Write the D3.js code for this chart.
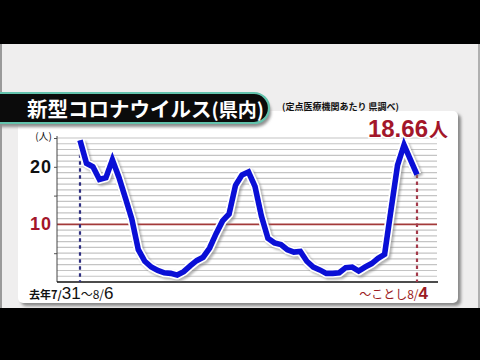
<!DOCTYPE html>
<html><head><meta charset="utf-8">
<script src="https://cdn.jsdelivr.net/npm/d3@7"></script>
<style>
html,body{margin:0;padding:0;background:#000;}
svg{display:block;}
</style></head>
<body>
<svg id="chart" width="480" height="360"></svg>
<script>
// Weekly reports, week starting dates (7/31 last year to 7/29 this year)
const weeks = ["7/31","8/7","8/14","8/21","8/28","9/4","9/11","9/18","9/25","10/2","10/9","10/16","10/23","10/30",
  "11/6","11/13","11/20","11/27","12/4","12/11","12/18","12/25","1/1","1/8","1/15","1/22","1/29",
  "2/5","2/12","2/19","2/26","3/4","3/11","3/18","3/25","4/1","4/8","4/15","4/22","4/29",
  "5/6","5/13","5/20","5/27","6/3","6/10","6/17","6/24","7/1","7/8","7/15","7/22","7/29"];
// Patients per sentinel medical institution
const perSite = [24.6,20.6,20.0,17.8,18.1,21.2,18.2,14.6,10.9,5.6,
  3.6,2.6,2.0,1.6,1.5,1.2,1.8,2.8,3.7,4.3,
  5.9,8.4,10.6,11.8,16.8,18.6,19.1,16.6,11.4,7.6,
  6.8,6.5,5.6,5.2,5.3,3.6,2.6,2.1,1.5,1.5,
  1.6,2.5,2.6,1.9,2.6,3.2,4.1,4.8,12.6,20.3,
  23.8,21.2,18.66];
const gridValues = d3.range(1, 26);
const tickValues = [5, 15, 20, 25];
const yLabels = [20, 10];

const svg = d3.select("#chart");
const jp = "'Noto Sans CJK JP','Noto Sans',sans-serif";
const num = "'Liberation Sans',Arial,sans-serif";

// backdrop
svg.append("rect").attr("x",0).attr("y",44).attr("width",480).attr("height",264).attr("fill","#efeeee");
svg.append("rect").attr("x",0).attr("y",44).attr("width",2).attr("height",264).attr("fill","#9a9a9a");
svg.append("rect").attr("x",478).attr("y",44).attr("width",2).attr("height",264).attr("fill","#b0b0b0");

const defs = svg.append("defs");
const sh = defs.append("filter").attr("id","sh").attr("x","-10%").attr("y","-10%").attr("width","130%").attr("height","130%");
sh.append("feGaussianBlur").attr("stdDeviation",1.6);
const lsh = defs.append("filter").attr("id","lsh").attr("x","-10%").attr("y","-10%").attr("width","130%").attr("height","130%");
lsh.append("feGaussianBlur").attr("stdDeviation",1.2);

// card
svg.append("rect").attr("x",21).attr("y",114).attr("width",440).attr("height",192).attr("rx",5)
  .attr("fill","#8a8a8a").attr("filter","url(#sh)");
svg.append("rect").attr("x",18).attr("y",111).attr("width",440).attr("height",192).attr("rx",5).attr("fill","#ffffff");

// scales
const x = d3.scalePoint().domain(weeks).range([80, 417]);
const y = d3.scaleLinear().domain([0, 25]).range([282, 138]);
const x0 = 57, x1 = 437;

// grid
svg.append("g").selectAll("line").data(gridValues.filter(v => v !== 10)).join("line")
  .attr("x1",x0).attr("x2",x1).attr("y1",d=>y(d)).attr("y2",d=>y(d))
  .attr("stroke","#c4c4c4").attr("stroke-width",1.2);
svg.append("line").attr("x1",x0).attr("x2",x1).attr("y1",y(10)).attr("y2",y(10))
  .attr("stroke","#a33a3a").attr("stroke-width",1.6);

// y axis
const yAxis = d3.axisLeft(y).tickValues(tickValues).tickSize(3).tickFormat("");
const ga = svg.append("g").attr("transform",`translate(${x0},0)`).call(yAxis);
ga.select(".domain").remove();
ga.selectAll(".tick line").attr("stroke","#555");
svg.append("line").attr("x1",x0).attr("x2",x0).attr("y1",y(25)-2).attr("y2",y(0))
  .attr("stroke","#444").attr("stroke-width",1);
svg.append("line").attr("x1",x0).attr("x2",x1+1).attr("y1",y(0)).attr("y2",y(0))
  .attr("stroke","#111").attr("stroke-width",1.5);

// y labels
svg.append("g").selectAll("text").data(yLabels).join("text")
  .attr("x",52).attr("y",d=>y(d)+6).attr("text-anchor","end")
  .attr("font-family",num).attr("font-size",18).attr("font-weight","bold")
  .attr("letter-spacing",1)
  .attr("fill",d=>d===10?"#a3162a":"#111").text(d=>d);
svg.append("text").attr("x",52).attr("y",y(25)+2).attr("text-anchor","end")
  .attr("font-family",jp).attr("font-size",10).attr("fill","#111").text("(人)");

// start / end markers
const first = weeks[0], last = weeks[weeks.length-1];
svg.append("line").attr("x1",x(first)).attr("x2",x(first)).attr("y1",y(perSite[0])).attr("y2",y(0))
  .attr("stroke","#2e2e80").attr("stroke-width",2.2).attr("stroke-dasharray","3.5,3.5");
svg.append("line").attr("x1",x(last)).attr("x2",x(last)).attr("y1",y(perSite[perSite.length-1])).attr("y2",y(0))
  .attr("stroke","#a33a4a").attr("stroke-width",2.2).attr("stroke-dasharray","3.5,3.5");

// series line
const line = d3.line().x((d,i)=>x(weeks[i])).y(d=>y(d));
svg.append("path").datum(perSite).attr("d",line).attr("fill","none")
  .attr("stroke","#777").attr("stroke-width",9).attr("stroke-linejoin","round")
  .attr("transform","translate(2,2)").attr("filter","url(#lsh)").attr("opacity",0.55);
svg.append("path").datum(perSite).attr("d",line).attr("fill","none")
  .attr("stroke","#ffffff").attr("stroke-width",9).attr("stroke-linejoin","round");
svg.append("path").datum(perSite).attr("d",line).attr("fill","none")
  .attr("stroke","#0a0fd6").attr("stroke-width",5.6).attr("stroke-linejoin","miter").attr("stroke-miterlimit",3);

// latest value label
const lastVal = perSite[perSite.length-1];
const lbl = svg.append("text").attr("x",448).attr("y",137).attr("text-anchor","end")
  .attr("fill","#a3162a").attr("stroke","#fff").attr("stroke-width",3).attr("paint-order","stroke")
  .attr("font-weight","bold");
lbl.append("tspan").attr("font-family",num).attr("font-size",24).text(d3.format(".2f")(lastVal));
lbl.append("tspan").attr("font-family",jp).attr("font-size",19).attr("dx",1).text("人");

// period labels
const left = svg.append("text").attr("x",29).attr("y",299).attr("fill","#111").attr("font-family",jp);
left.append("tspan").attr("font-size",11).attr("font-weight","bold").text("去年7/");
left.append("tspan").attr("font-size",17).attr("font-family",num).text("31");
left.append("tspan").attr("font-size",12).text("～8/");
left.append("tspan").attr("font-size",17).attr("font-family",num).text("6");
const right = svg.append("text").attr("x",428).attr("y",299).attr("text-anchor","end").attr("fill","#9b1a22").attr("font-family",jp);
right.append("tspan").attr("font-size",12).text("～ことし8/");
right.append("tspan").attr("font-size",17).attr("font-weight","bold").attr("font-family",num).text("4");

// source note
svg.append("text").attr("x",282).attr("y",110).attr("font-family",jp).attr("font-size",9)
  .attr("font-weight","bold").attr("fill","#111").text("(定点医療機関あたり 県調べ)");

// title banner
svg.append("path").attr("d","M-5,94 H254 A15,15 0 0 1 254,124 H-5 Z")
  .attr("fill","#8f8f8f").attr("transform","translate(2,3)").attr("filter","url(#sh)");
svg.append("path").attr("d","M-5,93 H254 A15,15 0 0 1 254,123 H-5 Z")
  .attr("fill","#0b0b0b").attr("stroke","#63c3ad").attr("stroke-width",2.2);
const t = svg.append("text").attr("x",27).attr("y",117).attr("fill","#fff")
  .attr("font-family",jp).attr("font-weight","bold");
t.append("tspan").attr("font-size",20.5).text("新型コロナウイルス");
t.append("tspan").attr("font-size",19).text("(県内)");
</script>
</body></html>
